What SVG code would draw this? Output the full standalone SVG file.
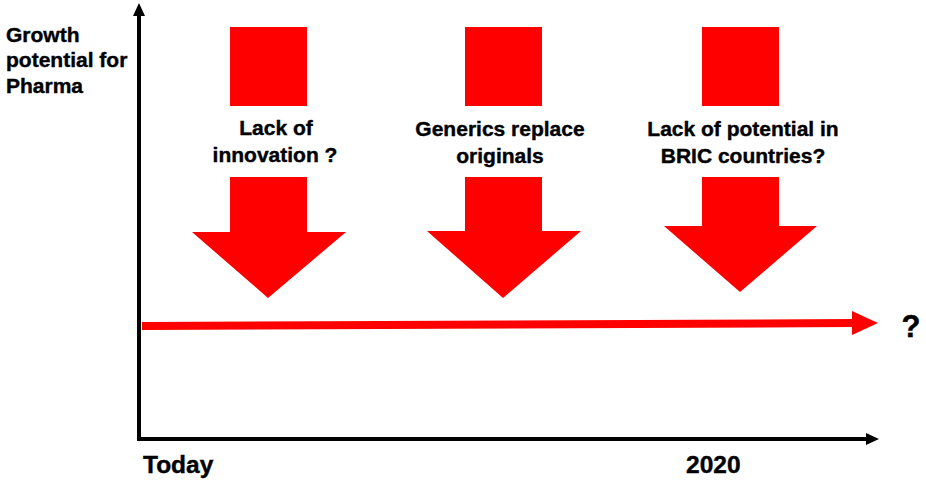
<svg xmlns="http://www.w3.org/2000/svg" width="926" height="481" viewBox="0 0 926 481">
  <style>
    .lbl { font-family: "Liberation Sans", Arial, sans-serif; font-weight: bold; font-size: 21px; fill: #000; stroke: #000; stroke-width: 0.4; }
    .mid { text-anchor: middle; }
    .big { font-size: 24.5px; }
    .red { fill: #ff0000; }
  </style>
  <rect width="926" height="481" fill="#fff"/>

  <!-- axes -->
  <g id="axes">
    <polyline points="139,14 139,439 868,439" fill="none" stroke="#000" stroke-width="4"/>
    <polygon points="139,3 133,16 145,16" fill="#000"/>
    <polygon points="879,439 866,433 866,445" fill="#000"/>
  </g>

  <g id="y-label">
    <text class="lbl" x="6" y="42">Growth</text>
    <text class="lbl" x="6" y="67">potential for</text>
    <text class="lbl" x="6" y="93">Pharma</text>
  </g>

  <g id="x-labels">
    <text class="lbl big" x="143" y="473">Today</text>
    <text class="lbl big" x="686" y="473">2020</text>
  </g>

  <!-- growth trend -->
  <g id="connectors">
    <line x1="142" y1="326" x2="854" y2="323" stroke="#ff0000" stroke-width="8"/>
    <polygon class="red" points="878,323 852,311 852,335"/>
  </g>
  <g id="outcome">
    <text class="lbl" x="911" y="337" text-anchor="middle" style="font-size:31px">?</text>
  </g>

  <!-- factor 1 -->
  <g id="innovation">
    <rect class="red" x="230" y="27" width="77" height="79"/>
    <text class="lbl mid" x="276" y="135">Lack of</text>
    <text class="lbl mid" x="275" y="162">innovation ?</text>
    <polygon class="red" points="230,177 307,177 307,232 346,232 268,298 192,232 230,232"/>
  </g>

  <!-- factor 2 -->
  <g id="generics">
    <rect class="red" x="465" y="27" width="77" height="79"/>
    <text class="lbl mid" x="500" y="136">Generics replace</text>
    <text class="lbl mid" x="500" y="163">originals</text>
    <polygon class="red" points="465,177 542,177 542,231 581,231 503,298 427,231 465,231"/>
  </g>

  <!-- factor 3 -->
  <g id="bric">
    <rect class="red" x="702" y="27" width="77" height="79"/>
    <text class="lbl mid" x="743" y="136">Lack of potential in</text>
    <text class="lbl mid" x="743" y="163">BRIC countries?</text>
    <polygon class="red" points="702,177 779,177 779,226 817,226 740,292 664,226 702,226"/>
  </g>
</svg>
